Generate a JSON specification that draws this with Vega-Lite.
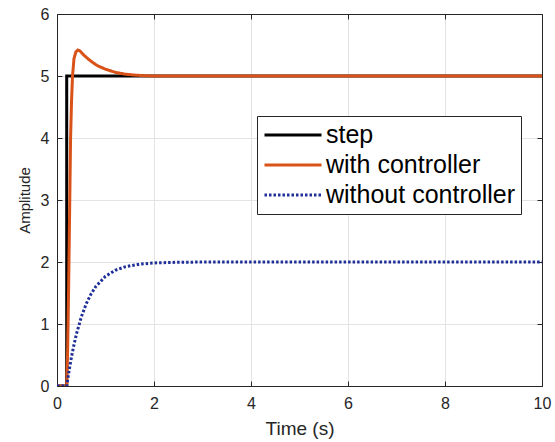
{
  "$schema": "https://vega.github.io/schema/vega-lite/v6.json",
  "width": 485,
  "height": 372,
  "autosize": {"type": "none"},
  "padding": {"left": 57, "top": 14, "right": 13, "bottom": 56},
  "config": {
    "font": "Liberation Sans",
    "view": {"stroke": "#262626", "strokeWidth": 1},
    "axis": {
      "domainColor": "#262626",
      "tickColor": "#262626",
      "labelColor": "#262626",
      "titleColor": "#262626",
      "labelFont": "Liberation Sans",
      "titleFont": "Liberation Sans",
      "labelFontSize": 16,
      "titleFontWeight": "normal",
      "gridColor": "#e3e3e3",
      "gridWidth": 1,
      "tickSize": -5,
      "tickWidth": 1
    }
  },
  "data": {
    "values": [
      {"s": "step", "t": 0, "y": 0},
      {"s": "step", "t": 0.2, "y": 0},
      {"s": "step", "t": 0.2001, "y": 5},
      {"s": "step", "t": 10, "y": 5},
      {"s": "with controller", "t": 0, "y": 0},
      {"s": "with controller", "t": 0.2, "y": 0},
      {"s": "with controller", "t": 0.22, "y": 0.6},
      {"s": "with controller", "t": 0.24, "y": 1.6},
      {"s": "with controller", "t": 0.26, "y": 2.8},
      {"s": "with controller", "t": 0.28, "y": 4.0},
      {"s": "with controller", "t": 0.3, "y": 4.6},
      {"s": "with controller", "t": 0.32, "y": 5.0},
      {"s": "with controller", "t": 0.35, "y": 5.28},
      {"s": "with controller", "t": 0.39, "y": 5.39},
      {"s": "with controller", "t": 0.43, "y": 5.42},
      {"s": "with controller", "t": 0.48, "y": 5.4},
      {"s": "with controller", "t": 0.55, "y": 5.34},
      {"s": "with controller", "t": 0.65, "y": 5.27},
      {"s": "with controller", "t": 0.75, "y": 5.21},
      {"s": "with controller", "t": 0.85, "y": 5.16},
      {"s": "with controller", "t": 1.0, "y": 5.11},
      {"s": "with controller", "t": 1.2, "y": 5.06},
      {"s": "with controller", "t": 1.4, "y": 5.03},
      {"s": "with controller", "t": 1.6, "y": 5.015},
      {"s": "with controller", "t": 1.8, "y": 5.005},
      {"s": "with controller", "t": 2.0, "y": 5.0},
      {"s": "with controller", "t": 10, "y": 5.0},
      {"s": "without controller", "t": 0, "y": 0},
      {"s": "without controller", "t": 0.2, "y": 0},
      {"s": "without controller", "t": 0.25, "y": 0.253},
      {"s": "without controller", "t": 0.3, "y": 0.473},
      {"s": "without controller", "t": 0.35, "y": 0.666},
      {"s": "without controller", "t": 0.4, "y": 0.836},
      {"s": "without controller", "t": 0.5, "y": 1.111},
      {"s": "without controller", "t": 0.6, "y": 1.321},
      {"s": "without controller", "t": 0.7, "y": 1.482},
      {"s": "without controller", "t": 0.8, "y": 1.605},
      {"s": "without controller", "t": 1.0, "y": 1.77},
      {"s": "without controller", "t": 1.2, "y": 1.866},
      {"s": "without controller", "t": 1.4, "y": 1.922},
      {"s": "without controller", "t": 1.7, "y": 1.965},
      {"s": "without controller", "t": 2.0, "y": 1.985},
      {"s": "without controller", "t": 2.5, "y": 1.996},
      {"s": "without controller", "t": 3.2, "y": 2.0},
      {"s": "without controller", "t": 10, "y": 2.0}
    ]
  },
  "layer": [
    {
      "mark": {"type": "line", "strokeWidth": 3, "clip": true},
      "encoding": {
        "x": {
          "field": "t", "type": "quantitative",
          "scale": {"domain": [0, 10], "nice": false, "zero": false},
          "axis": {"title": "Time (s)", "values": [0, 2, 4, 6, 8, 10], "titleFontSize": 19, "labelPadding": 14, "titlePadding": 8, "labelFlush": false}
        },
        "y": {
          "field": "y", "type": "quantitative",
          "scale": {"domain": [0, 6], "nice": false},
          "axis": {"title": "Amplitude", "values": [0, 1, 2, 3, 4, 5, 6], "titleFontSize": 15, "labelPadding": 13, "titlePadding": 8}
        },
        "color": {
          "field": "s", "type": "nominal",
          "scale": {"domain": ["step", "with controller", "without controller"], "range": ["#000000", "#D95319", "#1F2F98"]},
          "legend": {
            "title": null, "orient": "none", "legendX": 200, "legendY": 102,
            "labelFontSize": 25, "labelColor": "#000000", "labelFont": "Liberation Sans",
            "symbolType": "M-2.55,0H2.55", "symbolSize": 500, "symbolStrokeWidth": 3,
            "symbolOffset": 17, "labelOffset": 20,
            "strokeColor": "#262626", "fillColor": "#ffffff", "padding": 6, "labelLimit": 400, "rowPadding": 4
          }
        },
        "strokeDash": {
          "field": "s", "type": "nominal",
          "scale": {"domain": ["step", "with controller", "without controller"], "range": [[1, 0], [1, 0], [2.5, 2]]},
          "legend": {
            "title": null, "orient": "none", "legendX": 200, "legendY": 102,
            "labelFontSize": 25, "labelColor": "#000000", "labelFont": "Liberation Sans",
            "symbolType": "M-2.55,0H2.55", "symbolSize": 500, "symbolStrokeWidth": 3,
            "symbolOffset": 17, "labelOffset": 20,
            "strokeColor": "#262626", "fillColor": "#ffffff", "padding": 6, "labelLimit": 400, "rowPadding": 4
          }
        }
      }
    },
    {
      "mark": {"type": "line", "opacity": 0},
      "encoding": {
        "x": {"field": "t", "type": "quantitative", "axis": {"orient": "top", "labels": false, "title": null, "grid": false, "ticks": true, "tickSize": -5, "tickColor": "#262626", "values": [0, 2, 4, 6, 8, 10]}},
        "y": {"field": "y", "type": "quantitative", "axis": {"orient": "right", "labels": false, "title": null, "grid": false, "ticks": true, "tickSize": -5, "tickColor": "#262626", "values": [0, 1, 2, 3, 4, 5, 6]}}
      }
    }
  ],
  "resolve": {"axis": {"x": "independent", "y": "independent"}}
}
